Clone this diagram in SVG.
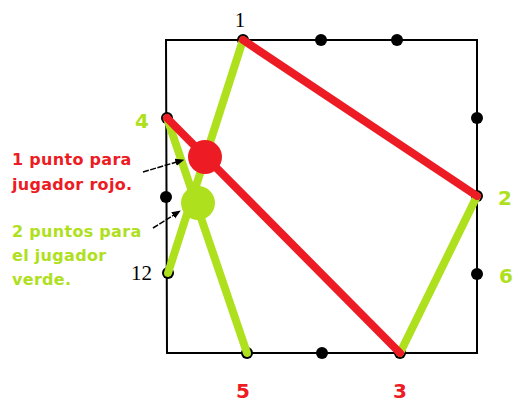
<svg xmlns="http://www.w3.org/2000/svg" width="513" height="403" viewBox="0 0 513 403">
<style>
.frame{fill:none;stroke:#000;stroke-width:2}
.dot{fill:#000}
.g{stroke:#afe01e;stroke-width:8;stroke-linecap:round;fill:none}
.r{stroke:#ed1c24;stroke-width:8;stroke-linecap:round;fill:none}
.num{font-family:"DejaVu Sans",sans-serif;font-weight:bold;font-size:20px}
.ser{font-family:"Liberation Serif",serif;font-size:21px;fill:#000}
.lab{font-family:"DejaVu Sans",sans-serif;font-weight:bold;font-size:16px;letter-spacing:0.3px}
.arr{stroke:#000;stroke-width:1.5;fill:none;stroke-dasharray:6 1.5}
</style>
<defs>
<marker id="ah" viewBox="0 0 10 10" refX="5" refY="5" markerWidth="6" markerHeight="6" orient="auto">
<path d="M0,1 L10,5 L0,9 Z" fill="#000"/>
</marker>
</defs>
<rect width="513" height="403" fill="#fff"/>
<g id="board">
<path class="frame" d="M166,40 H477 V353 H167 Z"/>
</g>
<g id="dots">
<circle class="dot" cx="243" cy="40" r="6"/>
<circle class="dot" cx="321" cy="40" r="6"/>
<circle class="dot" cx="397" cy="40" r="6"/>
<circle class="dot" cx="477" cy="118" r="6"/>
<circle class="dot" cx="477" cy="196" r="6"/>
<circle class="dot" cx="477" cy="274" r="6"/>
<circle class="dot" cx="400" cy="353" r="6"/>
<circle class="dot" cx="322" cy="353" r="6"/>
<circle class="dot" cx="247" cy="353" r="6"/>
<circle class="dot" cx="168" cy="273" r="6"/>
<circle class="dot" cx="166" cy="197" r="6"/>
<circle class="dot" cx="167" cy="118" r="6"/>
</g>
<g id="connectors">
<line class="g" x1="243" y1="40" x2="168" y2="273"/>
<line class="g" x1="167" y1="118" x2="247" y2="353"/>
<line class="g" x1="477" y1="196" x2="400" y2="353"/>
<line class="r" x1="243" y1="40" x2="477" y2="196"/>
<line class="r" x1="167" y1="118" x2="400" y2="353"/>
<path class="arr" d="M143,172 L180,161" marker-end="url(#ah)"/>
<path class="arr" d="M153,228 L177,213" marker-end="url(#ah)"/>
</g>
<g id="red-mark"><circle cx="205" cy="157" r="17" fill="#ed1c24"/></g>
<g id="green-mark"><circle cx="198" cy="203" r="17" fill="#afe01e"/></g>
<g id="labels">
<text class="ser" x="240" y="27" text-anchor="middle">1</text>
<text class="ser" x="152" y="280" text-anchor="end">12</text>
<text class="num" x="142" y="128" text-anchor="middle" fill="#afe01e">4</text>
<text class="num" x="505" y="205" text-anchor="middle" fill="#afe01e">2</text>
<text class="num" x="506" y="283" text-anchor="middle" fill="#afe01e">6</text>
<text class="num" x="243" y="398" text-anchor="middle" fill="#ed1c24">5</text>
<text class="num" x="400" y="398" text-anchor="middle" fill="#ed1c24">3</text>
<text class="lab" fill="#ed1c24"><tspan x="12" y="165">1 punto para</tspan><tspan x="12" y="190">jugador rojo.</tspan></text>
<text class="lab" fill="#afe01e"><tspan x="12" y="237">2 puntos para</tspan><tspan x="12" y="261">el jugador</tspan><tspan x="12" y="285">verde.</tspan></text>
</g>
</svg>
